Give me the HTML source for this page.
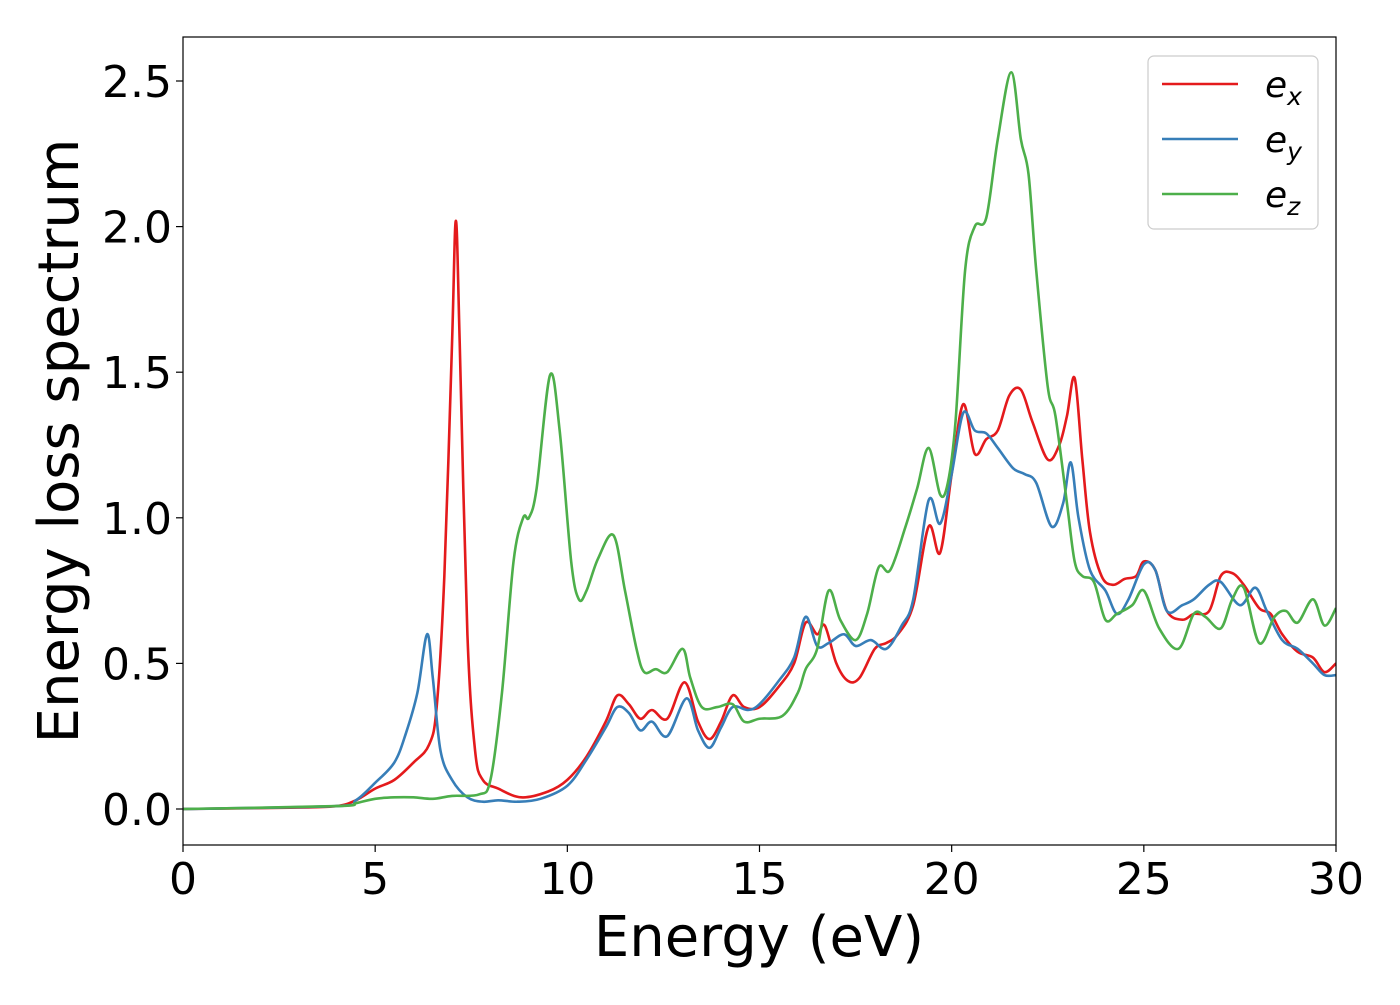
<!DOCTYPE html>
<html><head><meta charset="utf-8"><style>
body{margin:0;background:#fff;}
svg text{font-family:"DejaVu Sans","Liberation Sans",sans-serif;}
</style></head><body>
<svg id="chart" width="1400" height="1000" xmlns="http://www.w3.org/2000/svg">
<rect width="1400" height="1000" fill="#fff"/>
<g id="plot"></g>
</svg>
<script>
const exX=[0,3,4,4.5,5,5.5,6,6.4,6.6,6.8,7.0,7.1,7.2,7.4,7.6,7.8,8.2,8.8,9.5,10,10.5,11,11.3,11.6,11.9,12.2,12.6,13.05,13.4,13.7,14.0,14.3,14.6,15,15.5,15.9,16.2,16.5,16.7,17.0,17.3,17.6,18.0,18.3,18.6,19.0,19.4,19.7,20.0,20.3,20.6,20.9,21.2,21.5,21.8,22.1,22.5,22.8,23.0,23.2,23.4,23.6,23.9,24.2,24.5,24.8,25.0,25.3,25.6,26.0,26.3,26.7,27.0,27.3,27.6,28.0,28.3,28.6,29.0,29.4,29.7,30];
const exY=[0,0.005,0.01,0.03,0.07,0.1,0.16,0.22,0.35,0.8,1.6,2.02,1.6,0.6,0.2,0.1,0.07,0.04,0.06,0.1,0.18,0.3,0.39,0.36,0.31,0.34,0.31,0.435,0.3,0.24,0.3,0.39,0.35,0.35,0.42,0.5,0.64,0.6,0.63,0.5,0.44,0.45,0.55,0.57,0.6,0.7,0.97,0.88,1.15,1.39,1.22,1.27,1.3,1.42,1.44,1.33,1.2,1.25,1.35,1.48,1.2,0.95,0.8,0.77,0.79,0.8,0.85,0.82,0.68,0.65,0.67,0.68,0.8,0.81,0.77,0.69,0.67,0.6,0.54,0.52,0.47,0.5];
const eyX=[0,4,4.5,5,5.5,5.8,6.1,6.35,6.5,6.7,7.0,7.4,7.8,8.2,8.7,9.3,10,10.5,11,11.3,11.6,11.9,12.2,12.6,13.1,13.4,13.7,14.0,14.3,14.7,15,15.5,15.9,16.2,16.5,16.8,17.2,17.5,17.9,18.3,18.7,19.0,19.4,19.7,20.0,20.3,20.6,20.9,21.2,21.6,21.9,22.2,22.6,22.9,23.1,23.3,23.6,24.0,24.3,24.6,25.0,25.3,25.6,26.0,26.3,26.7,27.0,27.5,27.9,28.2,28.6,29.0,29.4,29.7,30];
const eyY=[0,0.01,0.03,0.09,0.16,0.26,0.4,0.6,0.45,0.2,0.1,0.04,0.025,0.03,0.025,0.035,0.08,0.17,0.28,0.35,0.33,0.27,0.3,0.25,0.38,0.27,0.21,0.28,0.35,0.34,0.36,0.44,0.52,0.66,0.56,0.57,0.6,0.56,0.58,0.55,0.63,0.72,1.06,0.98,1.15,1.36,1.3,1.29,1.24,1.17,1.15,1.12,0.97,1.05,1.19,1.0,0.82,0.75,0.67,0.72,0.84,0.82,0.68,0.7,0.72,0.77,0.78,0.7,0.76,0.68,0.58,0.55,0.5,0.46,0.46];
const ezX=[0,4,4.5,5,5.5,6,6.5,7,7.7,8.0,8.3,8.6,8.85,9.0,9.2,9.55,9.8,10.1,10.3,10.5,10.8,11.2,11.5,11.8,12.0,12.3,12.6,13.0,13.2,13.5,13.9,14.3,14.6,15.0,15.6,16.0,16.2,16.5,16.8,17.1,17.5,17.8,18.1,18.4,18.8,19.1,19.4,19.7,19.9,20.1,20.35,20.6,20.9,21.2,21.55,21.8,22.0,22.2,22.5,22.7,23.0,23.2,23.4,23.7,24.0,24.3,24.7,25.0,25.4,25.9,26.3,26.6,27.0,27.3,27.6,28.0,28.4,28.7,29.0,29.4,29.7,30];
const ezY=[0,0.01,0.02,0.035,0.04,0.04,0.035,0.045,0.05,0.1,0.4,0.85,1.0,1.0,1.1,1.49,1.3,0.85,0.72,0.75,0.86,0.94,0.75,0.55,0.47,0.48,0.47,0.55,0.45,0.35,0.35,0.36,0.3,0.31,0.32,0.4,0.48,0.55,0.75,0.65,0.58,0.67,0.83,0.82,0.97,1.1,1.24,1.08,1.12,1.33,1.85,2.0,2.03,2.3,2.53,2.3,2.18,1.85,1.45,1.35,1.05,0.85,0.8,0.78,0.65,0.67,0.7,0.75,0.62,0.55,0.67,0.66,0.62,0.72,0.76,0.57,0.66,0.68,0.64,0.72,0.63,0.69];
const xTicks=[0,5,10,15,20,25,30];
const yTicks=[0.0,0.5,1.0,1.5,2.0,2.5];

const L=183,R=1336,T=37,B=845;
const sx=v=>L+(v-0)/30*(R-L);
const sy=v=>809-v*291.2;
const NS="http://www.w3.org/2000/svg";
const g=document.getElementById('plot');
function mk(tag,attrs){const e=document.createElementNS(NS,tag);for(const k in attrs)e.setAttribute(k,attrs[k]);return e;}
function path(xs,ys){
  const p=xs.map((x,i)=>[sx(x),sy(ys[i])]);
  let d=`M${p[0][0]},${p[0][1]}`;
  for(let i=0;i<p.length-1;i++){
    const p0=p[Math.max(i-1,0)],p1=p[i],p2=p[i+1],p3=p[Math.min(i+2,p.length-1)];
    const c1=[p1[0]+(p2[0]-p0[0])/6,p1[1]+(p2[1]-p0[1])/6];
    const c2=[p2[0]-(p3[0]-p1[0])/6,p2[1]-(p3[1]-p1[1])/6];
    d+=`C${c1[0]},${c1[1]} ${c2[0]},${c2[1]} ${p2[0]},${p2[1]}`;
  }
  return d;
}
const clip=mk('clipPath',{id:'cp'});clip.appendChild(mk('rect',{x:L,y:T,width:R-L,height:B-T}));g.appendChild(clip);
const series=[[exX,exY,'#e41a1c','line-ex'],[eyX,eyY,'#377eb8','line-ey'],[ezX,ezY,'#4daf4a','line-ez']];
series.forEach(s=>{
  const e=mk('path',{d:path(s[0],s[1]),fill:'none',stroke:s[2],'stroke-width':2.6,'clip-path':'url(#cp)','stroke-linejoin':'round'});
  
  
  g.appendChild(e);
});
const frame=mk('rect',{x:L,y:T,width:R-L,height:B-T,fill:'none',stroke:'#000','stroke-width':1.2});


g.appendChild(frame);
xTicks.forEach(v=>{
  const x=sx(v);
  const tk=mk('line',{x1:x,x2:x,y1:B,y2:B+7,stroke:'#000','stroke-width':1.2});
  
  
  g.appendChild(tk);
  const t=mk('text',{x:x,y:894,'text-anchor':'middle','font-size':44});
  t.textContent=v;
  
  
  g.appendChild(t);
});
yTicks.forEach(v=>{
  const y=sy(v);
  const tk=mk('line',{x1:L-7,x2:L,y1:y,y2:y,stroke:'#000','stroke-width':1.2});
  
  
  g.appendChild(tk);
  const t=mk('text',{x:172,y:y+16,'text-anchor':'end','font-size':44});
  t.textContent=v.toFixed(1);
  
  
  g.appendChild(t);
});
</script>
<svg style="position:absolute;left:0;top:0" width="1400" height="1000" xmlns="http://www.w3.org/2000/svg">
<text x="759" y="956" text-anchor="middle" font-size="56" font-family="DejaVu Sans, Liberation Sans, sans-serif">Energy (eV)</text>
<text transform="translate(78,441) rotate(-90)" text-anchor="middle" font-size="56" font-family="DejaVu Sans, Liberation Sans, sans-serif">Energy loss spectrum</text>
<g>
<rect x="1148" y="56" width="170" height="173" rx="6" fill="#fff" stroke="#ccc" stroke-width="1.2"/>
<line x1="1162" x2="1238" y1="84" y2="84" stroke="#e41a1c" stroke-width="2.6"/>
<text x="1265" y="97" font-size="36" font-style="italic" font-family="DejaVu Sans, sans-serif">e<tspan font-size="25" dy="8">x</tspan></text>
<line x1="1162" x2="1238" y1="139" y2="139" stroke="#377eb8" stroke-width="2.6"/>
<text x="1265" y="152" font-size="36" font-style="italic" font-family="DejaVu Sans, sans-serif">e<tspan font-size="25" dy="8">y</tspan></text>
<line x1="1162" x2="1238" y1="194" y2="194" stroke="#4daf4a" stroke-width="2.6"/>
<text x="1265" y="207" font-size="36" font-style="italic" font-family="DejaVu Sans, sans-serif">e<tspan font-size="25" dy="8">z</tspan></text>
</g>
</svg>
</body></html>
